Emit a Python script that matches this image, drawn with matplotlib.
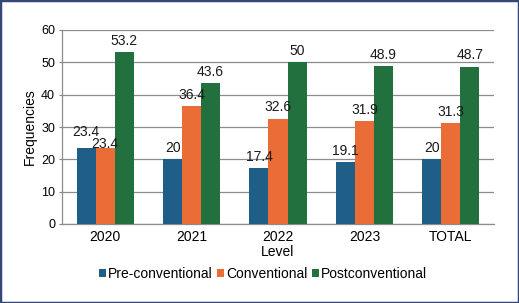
import matplotlib
matplotlib.use("Agg")
import matplotlib.pyplot as plt
import numpy as np
from matplotlib.patches import Rectangle

categories = ["2020", "2021", "2022", "2023", "TOTAL"]
pre_conventional = [23.4, 20, 17.4, 19.1, 20]
conventional = [23.4, 36.4, 32.6, 31.9, 31.3]
postconventional = [53.2, 43.6, 50, 48.9, 48.7]
series_names = ["Pre-conventional", "Conventional", "Postconventional"]
y_ticks = [0, 10, 20, 30, 40, 50, 60]

colors = ["#1f5f87", "#ea6d37", "#23703f"]

plt.rcParams['font.family'] = ['Liberation Sans', 'DejaVu Sans']

fig = plt.figure(figsize=(5.19, 3.03), dpi=100)
ax = fig.add_axes([62/519, 1-224/303, 432/519, 194/303])

x = np.arange(len(categories))
w = 0.22
all_series = [pre_conventional, conventional, postconventional]
bars = []
for i, (vals, c, name) in enumerate(zip(all_series, colors, series_names)):
    b = ax.bar(x + (i-1)*w, vals, width=w, color=c, label=name, zorder=3)
    bars.append(b)

# data labels (offset in points; special offsets for overlapping 2020 labels)
for i, vals in enumerate(all_series):
    for j, v in enumerate(vals):
        off = 8
        if j == 0 and i == 0:
            off = 12
        if j == 0 and i == 1:
            off = 3
        ax.annotate(f"{v:g}", xy=(x[j] + (i-1)*w, v), xytext=(0, off),
                    textcoords="offset points", ha="center", va="center",
                    fontsize=10, color="#1a1a1a", zorder=5)

ax.set_xlim(-0.5, len(categories)-0.5)
ax.set_ylim(0, 60)
ax.set_yticks(y_ticks)
ax.set_xticks(x)
ax.set_xticklabels(categories, fontsize=10)
ax.tick_params(axis='y', labelsize=9, length=2, color="#888888", pad=3)
ax.tick_params(axis='x', length=0, pad=4)
ax.yaxis.grid(True, color="#8c8c8c", linewidth=0.9, zorder=0)
for s in ["top", "right"]:
    ax.spines[s].set_visible(False)
for s in ["left", "bottom"]:
    ax.spines[s].set_color("#8c8c8c")
    ax.spines[s].set_linewidth(0.9)

ax.set_xlabel("Level", fontsize=10, labelpad=1)
ax.set_ylabel("Frequencies", fontsize=10, labelpad=3)

leg = fig.legend(handles=bars, labels=series_names, loc="center",
                 bbox_to_anchor=(263/519, 1-274/303), ncol=3, frameon=False,
                 fontsize=10, handlelength=0.5, handleheight=0.5,
                 handletextpad=0.15, columnspacing=0.3)

fig.patches.append(Rectangle((0, 0), 1, 1, transform=fig.transFigure,
                             fill=False, edgecolor="#34497a", linewidth=2.5))

fig.savefig("out.png", dpi=100)
